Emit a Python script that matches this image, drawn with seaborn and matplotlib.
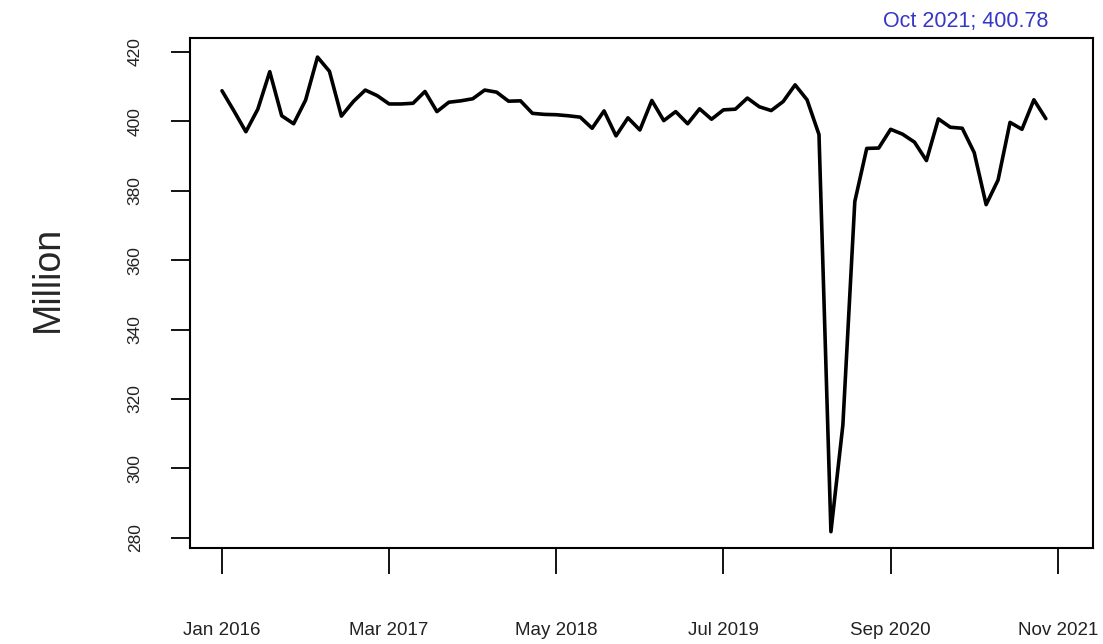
import numpy as np
import pandas as pd
import matplotlib
matplotlib.use("Agg")
import matplotlib.pyplot as plt
import seaborn as sns

# monthly values, Jan 2016 .. Oct 2021 (million)
meses = pd.date_range("2016-01-01", "2021-10-01", freq="MS")
valores = [408.8, 403.0, 397.0, 403.5, 414.3, 401.6, 399.3, 406.1, 418.5, 414.4,
           401.5, 405.7, 409.0, 407.4, 405.0, 405.0, 405.2, 408.6, 402.8, 405.5,
           405.9, 406.5, 409.0, 408.4, 405.8, 405.9, 402.3, 402.0, 401.9, 401.6,
           401.2, 398.0, 403.0, 395.8, 401.0, 397.5, 406.0, 400.2, 402.8, 399.3,
           403.6, 400.6, 403.3, 403.5, 406.7, 404.2, 403.1, 405.7, 410.5, 406.2,
           396.2, 281.8, 312.5, 376.9, 392.2, 392.3, 397.7, 396.3, 394.0, 388.7,
           400.7, 398.3, 398.0, 391.0, 376.0, 383.1, 399.7, 397.7, 406.2, 400.78]
tick_pos = [0, 14, 28, 42, 56, 70]
tick_labels = ["Jan 2016", "Mar 2017", "May 2018", "Jul 2019", "Sep 2020", "Nov 2021"]
y_ticks = [280, 300, 320, 340, 360, 380, 400, 420]

df = pd.DataFrame({"mes": np.arange(len(valores)), "valor": valores})

sns.set_style("ticks")
plt.rcParams['font.family'] = ['Liberation Sans', 'DejaVu Sans']

fig = plt.figure(figsize=(11.03, 6.44), dpi=100)
ax = fig.add_axes([190 / 1103, 1 - 548 / 644, 903 / 1103, 510 / 644])

sns.lineplot(data=df, x="mes", y="valor", ax=ax, color="black", linewidth=2.6)

ax.set_xlim(-2.68, 72.95)
ax.set_ylim(277.1, 424.0)
ax.set_xticks(tick_pos)
ax.set_xticklabels(tick_labels, fontsize=13.5)
ax.set_yticks(y_ticks)
ax.set_yticklabels([str(v) for v in y_ticks], fontsize=12.5, rotation=90, va="center")

for s in ax.spines.values():
    s.set_visible(True)
    s.set_linewidth(1.5)
    s.set_color("black")

ax.tick_params(axis="x", length=19, width=1.3, pad=34, colors="black")
ax.tick_params(axis="y", length=14, width=1.3, pad=20, colors="black")
for lbl in ax.get_xticklabels() + ax.get_yticklabels():
    lbl.set_color("#222222")

ax.set_xlabel("")
ax.set_ylabel("Million", fontsize=27)
ax.yaxis.set_label_coords(-0.138, 0.527)

fig.text(1048 / 1103, 1 - 22 / 644, "Oct 2021; 400.78", color="#3636c8",
         fontsize=15.5, ha="right", va="center")

plt.savefig("out.png", dpi=100)
plt.close()
